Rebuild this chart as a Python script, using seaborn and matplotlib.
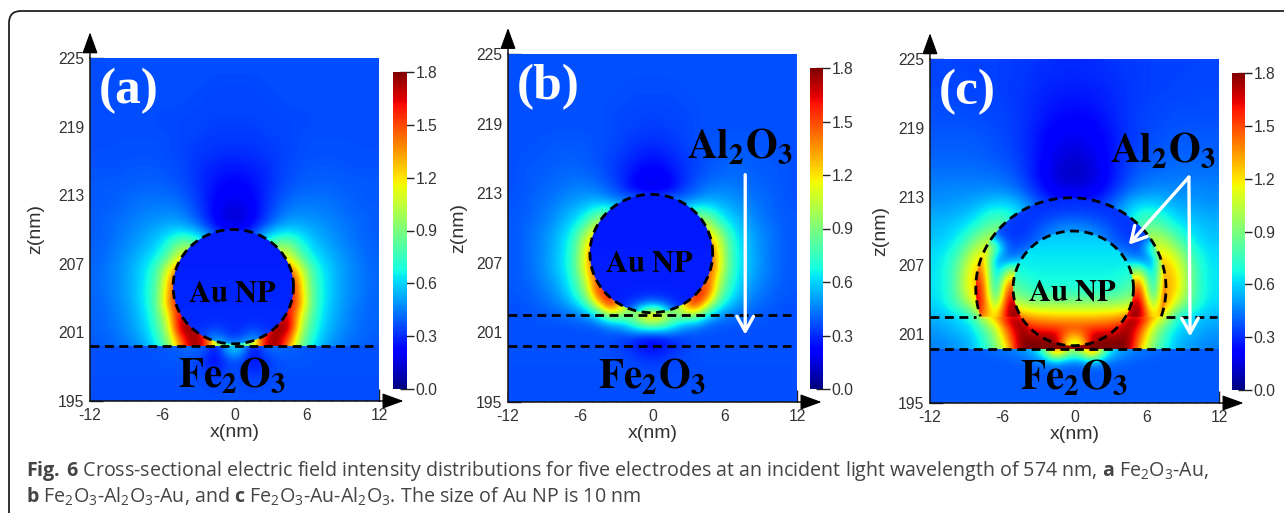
import numpy as np
import matplotlib
matplotlib.use('Agg')
import matplotlib.pyplot as plt
from matplotlib.patches import Circle, FancyBboxPatch, Polygon, Rectangle
from matplotlib.transforms import IdentityTransform
import seaborn as sns

# ==========================================
# 1. DATA
# ==========================================
# field intensity, right half of each panel (columns x = 0.5, 1.5, ... nm), rows going down in z.
# Cells just inside a material edge carry the value seen just outside it, the edge clips them.

# (a) rows z = 224.5 ... 199.5
field_a_upper = [
    [.36, .36, .36, .36, .36, .36, .36, .36, .36, .36, .36, .36],
    [.36, .36, .36, .36, .36, .36, .36, .36, .36, .36, .36, .36],
    [.35, .35, .36, .36, .36, .36, .36, .36, .36, .36, .36, .36],
    [.35, .35, .35, .36, .36, .36, .36, .36, .36, .36, .36, .36],
    [.35, .35, .35, .35, .36, .36, .36, .36, .36, .36, .36, .36],
    [.34, .34, .35, .35, .35, .35, .36, .36, .36, .36, .36, .36],
    [.33, .33, .34, .35, .35, .36, .36, .36, .36, .36, .36, .36],
    [.32, .32, .33, .34, .35, .36, .37, .37, .37, .37, .36, .36],
    [.30, .31, .32, .33, .35, .36, .37, .37, .37, .37, .37, .37],
    [.27, .28, .30, .33, .36, .37, .38, .38, .38, .37, .37, .37],
    [.24, .26, .29, .33, .36, .38, .39, .39, .39, .38, .38, .38],
    [.21, .24, .29, .34, .38, .40, .41, .41, .40, .39, .39, .38],
    [.18, .22, .29, .36, .41, .43, .43, .43, .42, .40, .39, .38],
    [.14, .20, .31, .39, .45, .47, .46, .45, .43, .41, .40, .39],
    [.15, .22, .34, .45, .52, .52, .50, .48, .45, .43, .41, .39],
    [.30, .35, .55, .65, .68, .62, .55, .51, .47, .44, .41, .39],
    [.35, .50, .70, .95, .95, .72, .60, .54, .49, .45, .42, .40],
    [.50, .70, 1.0, 1.2, 1.15, .85, .66, .58, .52, .47, .43, .40],
    [.50, .70, 1.0, 1.2, 1.50, 1.10, .76, .62, .54, .48, .44, .41],
    [.50, .70, 1.0, 1.2, 1.70, 1.25, .78, .63, .54, .48, .44, .41],
    [.50, .70, 1.0, 1.2, 1.70, 1.30, .80, .64, .54, .48, .44, .41],
    [.50, .70, 1.0, 1.3, 1.70, 1.35, .80, .63, .53, .47, .43, .40],
    [.50, .70, 1.1, 1.5, 1.70, 1.15, .78, .60, .52, .46, .42, .40],
    [.50, .80, 1.4, 1.8, 1.80, 1.05, .74, .58, .51, .45, .42, .40],
    [.60, 1.0, 1.7, 1.8, 1.50, .95, .68, .55, .48, .43, .41, .39],
    [.80, 1.0, 1.6, 1.8, 1.30, .85, .62, .50, .45, .42, .40, .38],
]
# (a) below the interface, rows z = 200.5 ... 195.5
field_a_lower = [
    [.60, .30, .40, .42, .40, .38, .38, .38, .37, .37, .37, .37],
    [.60, .22, .40, .42, .40, .38, .38, .37, .37, .37, .37, .37],
    [.35, .22, .30, .36, .38, .38, .37, .37, .37, .37, .37, .37],
    [.36, .30, .34, .36, .37, .37, .37, .37, .37, .37, .37, .37],
    [.36, .35, .36, .36, .36, .36, .36, .36, .36, .36, .36, .36],
    [.36, .36, .36, .36, .36, .36, .36, .36, .36, .36, .36, .36],
]
# inside the particle, rows z = 210.5 ... 199.5
inner_a = [
    [.28, .28, .28, .28, .28, .28],
    [.28, .28, .28, .28, .28, .28],
    [.28, .28, .28, .28, .28, .28],
    [.28, .28, .28, .28, .28, .28],
    [.28, .28, .28, .28, .28, .28],
    [.29, .29, .29, .29, .29, .29],
    [.29, .29, .29, .29, .29, .29],
    [.29, .29, .29, .29, .29, .29],
    [.30, .30, .30, .30, .30, .30],
    [.30, .32, .30, .30, .30, .30],
    [.32, .50, .36, .30, .30, .30],
    [.65, .70, .45, .30, .30, .30],
]

# (b) rows z = 224.5 ... 195.5
field_b = [
    [.37, .37, .37, .37, .37, .37, .37, .37, .37, .37, .37, .37],
    [.37, .37, .37, .37, .37, .37, .37, .37, .37, .37, .37, .37],
    [.36, .36, .37, .37, .37, .37, .37, .37, .37, .37, .37, .37],
    [.36, .36, .36, .37, .37, .37, .37, .37, .37, .37, .37, .37],
    [.35, .35, .36, .36, .37, .37, .37, .37, .37, .37, .37, .37],
    [.34, .35, .35, .36, .37, .37, .37, .37, .37, .37, .37, .37],
    [.33, .34, .35, .36, .37, .37, .37, .37, .37, .37, .37, .37],
    [.31, .32, .34, .36, .37, .38, .38, .38, .38, .37, .37, .37],
    [.28, .30, .33, .35, .37, .38, .39, .39, .38, .38, .37, .37],
    [.24, .27, .31, .34, .37, .39, .40, .40, .39, .38, .38, .37],
    [.20, .24, .30, .35, .39, .41, .42, .41, .40, .39, .38, .37],
    [.15, .21, .31, .38, .43, .45, .45, .43, .41, .40, .38, .37],
    [.40, .42, .42, .46, .52, .51, .49, .46, .43, .41, .39, .37],
    [.45, .50, .60, .75, .72, .62, .55, .50, .45, .42, .39, .38],
    [.50, .60, .80, 1.0, 1.05, .75, .62, .54, .47, .43, .40, .38],
    [.50, .60, .80, 1.0, 1.25, 1.0, .70, .58, .50, .45, .41, .38],
    [.50, .60, .80, 1.0, 1.50, 1.15, .75, .60, .51, .45, .41, .38],
    [.50, .60, .80, 1.0, 1.60, 1.20, .76, .61, .52, .45, .41, .38],
    [.50, .60, .80, 1.0, 1.60, 1.20, .76, .61, .52, .45, .41, .38],
    [.50, .60, .80, 1.0, 1.60, 1.05, .72, .58, .49, .44, .40, .38],
    [.50, .60, .90, 1.6, 1.60, .95, .68, .54, .46, .42, .39, .38],
    [.60, .70, 1.3, 1.7, 1.20, .75, .58, .48, .43, .40, .38, .37],
    [1.30, .95, .90, 1.0, .65, .50, .44, .41, .39, .38, .37, .37],
    [.80, .70, .50, .44, .38, .37, .37, .37, .37, .37, .37, .37],
    [.22, .28, .33, .36, .37, .37, .37, .37, .37, .37, .37, .37],
    [.25, .30, .34, .36, .37, .37, .37, .37, .37, .37, .37, .37],
    [.33, .35, .36, .36, .37, .37, .37, .37, .37, .37, .37, .37],
    [.36, .36, .36, .36, .36, .36, .36, .36, .36, .36, .36, .36],
    [.36, .36, .36, .36, .36, .36, .36, .36, .36, .36, .36, .36],
    [.36, .36, .36, .36, .36, .36, .36, .36, .36, .36, .36, .36],
]
# inside the particle, rows z = 213.5 ... 201.5
inner_b = [
    [.27, .27, .27, .27, .27, .27],
    [.27, .27, .27, .27, .27, .27],
    [.27, .27, .27, .27, .27, .27],
    [.27, .27, .27, .27, .27, .27],
    [.27, .27, .27, .27, .27, .27],
    [.27, .27, .27, .27, .27, .27],
    [.28, .28, .28, .28, .28, .28],
    [.28, .28, .28, .28, .28, .28],
    [.28, .28, .28, .28, .28, .28],
    [.28, .28, .28, .28, .28, .28],
    [.40, .32, .28, .28, .28, .28],
    [1.20, .60, .30, .28, .28, .28],
    [1.20, .60, .30, .28, .28, .28],
]

# (c) rows z = 224.5 ... 199.5
field_c_upper = [
    [.30, .30, .31, .32, .33, .33, .34, .34, .34, .34, .35, .35],
    [.29, .30, .30, .31, .33, .33, .34, .34, .34, .35, .35, .35],
    [.28, .28, .29, .31, .32, .33, .34, .34, .35, .35, .35, .35],
    [.26, .27, .28, .30, .32, .33, .34, .35, .35, .35, .36, .36],
    [.24, .25, .27, .30, .32, .34, .35, .35, .36, .36, .36, .36],
    [.22, .23, .26, .29, .32, .34, .35, .36, .37, .37, .37, .37],
    [.19, .21, .24, .28, .32, .34, .36, .37, .38, .38, .38, .38],
    [.17, .19, .23, .28, .32, .35, .37, .38, .39, .39, .39, .39],
    [.14, .17, .22, .28, .33, .36, .38, .39, .40, .40, .40, .40],
    [.12, .15, .21, .28, .34, .38, .40, .41, .42, .42, .42, .42],
    [.12, .15, .21, .29, .36, .41, .43, .44, .44, .44, .44, .44],
    [.18, .19, .25, .33, .41, .46, .48, .48, .47, .47, .47, .46],
    [.25, .28, .33, .42, .52, .58, .58, .55, .52, .50, .49, .48],
    [.35, .38, .42, .48, .60, .70, .72, .66, .58, .55, .53, .52],
    [.50, .50, .50, .55, .65, .80, .85, .76, .66, .60, .57, .55],
    [.50, .50, .50, .60, .70, .90, 1.0, .95, .78, .66, .60, .57],
    [.50, .50, .50, .60, .70, .95, 1.1, 1.1, .95, .74, .64, .60],
    [.50, .50, .50, .60, .70, 1.0, 1.2, 1.25, 1.10, .84, .68, .62],
    [.50, .50, .50, .60, .70, 1.0, 1.3, 1.30, 1.20, .90, .70, .63],
    [.50, .50, .50, .60, .70, 1.0, 1.3, 1.30, 1.25, .92, .70, .63],
    [.50, .50, .50, .60, .70, 1.0, 1.3, 1.35, 1.20, .90, .70, .63],
    [.50, .50, .50, .60, .70, 1.0, 1.3, 1.40, 1.0, .82, .67, .60],
    [1.25, 1.25, 1.28, 1.30, 1.80, 1.80, 1.30, 1.10, .70, .62, .58, .55],
    [1.60, 1.55, 1.55, 1.60, 1.80, 1.50, 1.05, .80, .62, .58, .54, .50],
    [1.80, 1.80, 1.80, 1.80, 1.80, 1.35, .95, .72, .57, .52, .49, .47],
    [1.70, 1.80, 1.80, 1.80, 1.80, 1.20, .85, .68, .55, .50, .47, .45],
]
# (c) below the interface, rows z = 200.5 ... 195.5
field_c_lower = [
    [1.0, 1.6, .80, .55, .48, .44, .42, .40, .39, .39, .38, .38],
    [1.0, 1.6, .80, .55, .48, .44, .42, .40, .39, .39, .38, .38],
    [.40, .45, .42, .40, .39, .38, .38, .38, .38, .38, .38, .38],
    [.38, .38, .38, .38, .38, .38, .38, .38, .38, .38, .38, .38],
    [.38, .38, .38, .38, .38, .38, .38, .38, .38, .38, .38, .38],
    [.38, .38, .38, .38, .38, .38, .38, .38, .38, .38, .38, .38],
]
# Al2O3 shell under the dome, rows z = 213.5 ... 201.5, columns to x = 8.5
shell_c = [
    [.30, .30, .30, .32, .36, .40, .42, .44, .44],
    [.30, .30, .30, .32, .36, .40, .42, .44, .44],
    [.34, .33, .32, .31, .33, .38, .42, .44, .44],
    [.45, .42, .38, .33, .31, .33, .40, .50, .50],
    [.52, .50, .44, .36, .32, .32, .36, .80, .90],
    [.55, .52, .48, .42, .38, .36, .90, 1.2, 1.2],
    [.55, .55, .55, .55, .50, .40, .46, 1.30, 1.35],
    [.55, .55, .55, .55, .90, 1.0, .42, 1.40, 1.5],
    [.60, .60, .60, .60, 1.2, 1.5, .42, 1.50, 1.6],
    [.60, .60, .60, .60, 1.4, 1.7, .50, 1.55, 1.7],
    [.70, .70, .70, .70, 1.7, 1.8, .80, 1.55, 1.7],
    [1.0, 1.0, 1.0, 1.0, 1.8, 1.8, 1.15, 1.40, 1.6],
    [1.5, 1.5, 1.5, 1.5, 1.8, 1.5, 1.05, .90, .90],
]
# inside the particle, rows z = 210.5 ... 199.5
inner_c = [
    [.55, .55, .55, .55, .55, .55],
    [.58, .58, .58, .58, .58, .58],
    [.62, .62, .62, .62, .62, .62],
    [.64, .64, .64, .64, .64, .64],
    [.66, .66, .66, .66, .68, .75],
    [.68, .68, .68, .70, .75, .85],
    [.75, .75, .75, .78, .85, .95],
    [1.0, 1.0, 1.0, 1.0, 1.05, 1.15],
    [1.25, 1.25, 1.28, 1.30, 1.40, 1.50],
    [1.55, 1.55, 1.55, 1.60, 1.70, 1.80],
    [1.15, 1.80, 1.80, 1.80, 1.80, 1.80],
    [1.0, 1.75, 1.75, 1.70, 1.70, 1.70],
]

x_ticks = [-12, -6, 0, 6, 12]
z_ticks = [225, 219, 213, 207, 201, 195]
bar_ticks = [0.0, 0.3, 0.6, 0.9, 1.2, 1.5, 1.8]
panel_names = ['(a)', '(b)', '(c)']
# pixel boxes in the image: left, right, top, bottom
panel_boxes = [(90, 379, 58, 401), (508, 797, 54, 402), (930, 1219, 59, 403)]
bar_boxes = [(393, 407, 72, 389), (810, 823, 68, 389), (1232, 1245, 73, 390)]
z_label_pads = [10, 6, 6]
caption_1 = (r'$\mathbf{Fig.\,6}$ Cross-sectional electric field intensity distributions for five '
             r'electrodes at an incident light wavelength of 574 nm, $\mathbf{a}$ Fe$_2$O$_3$-Au,')
caption_2 = (r'$\mathbf{b}$ Fe$_2$O$_3$-Al$_2$O$_3$-Au, and $\mathbf{c}$ Fe$_2$O$_3$-Au-Al$_2$O$_3$. '
             r'The size of Au NP is 10 nm')

# ==========================================
# 2. STYLE
# ==========================================
W, H = 1284, 513
sns.set_theme(style='white')
plt.rcParams['font.family'] = ['Liberation Sans', 'DejaVu Sans']
# custom math fonts serve the caption, the serif labels use stix
plt.rcParams['mathtext.fontset'] = 'custom'
plt.rcParams['mathtext.bf'] = 'Open Sans:bold'
plt.rcParams['mathtext.rm'] = 'Open Sans'
plt.rcParams['mathtext.default'] = 'regular'

fig = plt.figure(figsize=(W / 100, H / 100), dpi=100, facecolor='white')


def box_to_axes(box):
    l, r, t, b = box
    return fig.add_axes([l / W, 1 - b / H, (r - l) / W, (b - t) / H])


# heatmap axes run in cell numbers, so data goes through these two
def xi(x):
    return np.asarray(x, dtype=float) + 12


def zi(z):
    return 225 - np.asarray(z, dtype=float)


def mirror(half):
    half = np.array(half)
    return np.hstack([half[:, ::-1], half])


def smooth_layer(ax, half, z_top, clip=None):
    full = mirror(half)
    rows, cols = full.shape
    im = ax.imshow(full, cmap='jet', vmin=0, vmax=1.8, aspect='auto', interpolation='bicubic',
                   extent=(xi(-cols / 2), xi(cols / 2), zi(z_top - rows), zi(z_top)), zorder=1.5)
    if clip is not None:
        clip.set_transform(ax.transData)
        im.set_clip_path(clip)


def disc(cx, cz, r):
    return Circle((xi(cx), zi(cz)), r)


def above(z):
    return Rectangle((0, 0), 24, zi(z))


def below(z):
    return Rectangle((0, zi(z)), 24, 30 - zi(z))


def dashed(ax, x, z):
    ax.plot(xi(x), zi(z), color='black', lw=2, dashes=(3.2, 2.0), zorder=3, clip_on=False)


def circle(ax, cx, cz, r, t0=0, t1=360):
    t = np.radians(np.linspace(t0, t1, 200))
    dashed(ax, cx + r * np.cos(t), cz + r * np.sin(t))


def white_arrow(ax, start, end):
    ax.annotate('', xy=(xi(end[0]), zi(end[1])), xytext=(xi(start[0]), zi(start[1])),
                arrowprops=dict(arrowstyle='->,head_length=0.9,head_width=0.5', color='white',
                                lw=2.4, shrinkA=0, shrinkB=0), zorder=4)


def label(ax, x, z, text, size):
    ax.text(xi(x), zi(z), text, fontsize=size, color='black', ha='center', va='center', zorder=4,
            math_fontfamily='stix')


# ==========================================
# 3. PANELS
# ==========================================
panel_cells = [
    np.vstack([field_a_upper, field_a_lower[2:]]),
    np.array(field_b),
    np.vstack([field_c_upper, field_c_lower[2:]]),
]
axes = []
for name, cells, box, bar_box, z_pad in zip(panel_names, panel_cells, panel_boxes, bar_boxes, z_label_pads):
    ax = box_to_axes(box)
    cax = box_to_axes(bar_box)
    sns.heatmap(mirror(cells), ax=ax, cbar_ax=cax, cmap='jet', vmin=0, vmax=1.8,
                xticklabels=False, yticklabels=False, cbar_kws={'ticks': bar_ticks})
    colorbar = ax.collections[0].colorbar

    ax.set_xticks(xi(x_ticks), [str(v) for v in x_ticks])
    ax.set_yticks(zi(z_ticks), [str(v) for v in z_ticks])
    ax.set_xticks(np.arange(0, 25), minor=True)
    ax.set_yticks(np.arange(0, 31), minor=True)
    ax.tick_params(axis='both', which='major', direction='in', length=9, width=1, color='#222222',
                   labelsize=11.3, labelcolor='#333333', left=True, bottom=True, rotation=0)
    ax.tick_params(axis='y', which='major', pad=4)
    ax.tick_params(axis='x', which='major', pad=5)
    ax.tick_params(axis='both', which='minor', direction='in', length=4, width=0.8,
                   color='#222222', left=True, bottom=True)
    ax.set_xlabel('x(nm)', fontsize=14, color='#333333', labelpad=1)
    ax.set_ylabel('z(nm)', fontsize=14, color='#333333', labelpad=z_pad)
    for side, spine in ax.spines.items():
        spine.set_visible(side in ('left', 'bottom'))
        spine.set_color('#111111')
        spine.set_linewidth(1.1)

    # black arrow heads on the axes
    for tip, base in [((0, 1.075), (0, 1.0)), ((1.085, 0), (1.0, 0))]:
        ax.annotate('', xy=tip, xytext=base, xycoords='axes fraction', textcoords='axes fraction',
                    annotation_clip=False,
                    arrowprops=dict(arrowstyle='-|>,head_length=1.1,head_width=0.4', color='black',
                                    lw=1, shrinkA=0, shrinkB=0))

    cax.tick_params(axis='y', direction='inout', length=10, width=1, color='#222222',
                    labelsize=11.3, labelcolor='#333333', pad=1, right=True)
    cax.yaxis.set_ticks_position('right')
    colorbar.outline.set_visible(False)

    ax.text(0.032, 0.905, name, transform=ax.transAxes, color='white', fontsize=37,
            family='Liberation Serif', fontweight='bold', ha='left', va='center', zorder=4)
    axes.append(ax)

ax_a, ax_b, ax_c = axes
fe_label = r'$\mathbf{Fe_2O_3}$'
al_label = r'$\mathbf{Al_2O_3}$'
np_label = r'$\mathbf{Au\ NP}$'

# (a)
smooth_layer(ax_a, field_a_upper, 225, above(199.8))
smooth_layer(ax_a, field_a_lower, 201, below(199.8))
smooth_layer(ax_a, inner_a, 211, disc(-0.1, 205, 5))
dashed(ax_a, [-12, 11.5], [199.8, 199.8])
circle(ax_a, -0.1, 205, 5)
label(ax_a, -0.2, 204.4, np_label, 22)
label(ax_a, -0.2, 197.2, fe_label, 29.5)

# (b)
smooth_layer(ax_b, field_b, 225)
smooth_layer(ax_b, inner_b, 214, disc(-0.1, 207.8, 5.1))
dashed(ax_b, [-12, 11.5], [202.5, 202.5])
dashed(ax_b, [-12, 11.5], [199.8, 199.8])
circle(ax_b, -0.1, 207.8, 5.1)
label(ax_b, -0.3, 206.9, np_label, 22)
label(ax_b, 0, 197.2, fe_label, 29.5)
label(ax_b, 7.3, 217.0, al_label, 29.5)
white_arrow(ax_b, (7.7, 214.6), (7.7, 200.8))

# (c)
smooth_layer(ax_c, field_c_upper, 225, above(199.7))
smooth_layer(ax_c, field_c_lower, 201, below(199.7))
t = np.radians(np.linspace(-18.4, 198.4, 120))
dome = Polygon(np.column_stack([xi(-0.3 + 7.9 * np.cos(t)), zi(205 + 7.9 * np.sin(t))]))
smooth_layer(ax_c, shell_c, 214, dome)
smooth_layer(ax_c, inner_c, 211, disc(-0.1, 205, 5))
dashed(ax_c, [-12, -8.2], [202.5, 202.5])
dashed(ax_c, [7.6, 11.8], [202.5, 202.5])
dashed(ax_c, [-12, 11.5], [199.7, 199.7])
circle(ax_c, -0.1, 205, 5)
circle(ax_c, -0.3, 205, 7.9, -18, 198)
label(ax_c, -0.2, 204.6, np_label, 22)
label(ax_c, 0, 197.2, fe_label, 29.5)
label(ax_c, 7.35, 217.0, al_label, 29.5)
white_arrow(ax_c, (9.5, 214.7), (9.6, 200.8))
white_arrow(ax_c, (9.5, 214.7), (4.5, 208.8))

# the image layers widen the limits, put them back
for ax in axes:
    ax.set_xlim(0, 24)
    ax.set_ylim(30, 0)

# ==========================================
# 4. CARD FRAME & CAPTION
# ==========================================
fig.add_artist(FancyBboxPatch((9, -50), 1400, H - 11 + 50, transform=IdentityTransform(),
                              boxstyle='round,pad=0,rounding_size=12',
                              fc='none', ec='#222222', lw=1.3))
cap_font = dict(fontsize=14.15, color='#444444', family=['Open Sans', 'DejaVu Sans'], va='center', ha='left')
fig.text(26 / W, 1 - 471 / H, caption_1, **cap_font)
fig.text(26 / W, 1 - 497 / H, caption_2, **cap_font)

fig.savefig('out.png', dpi=100)
